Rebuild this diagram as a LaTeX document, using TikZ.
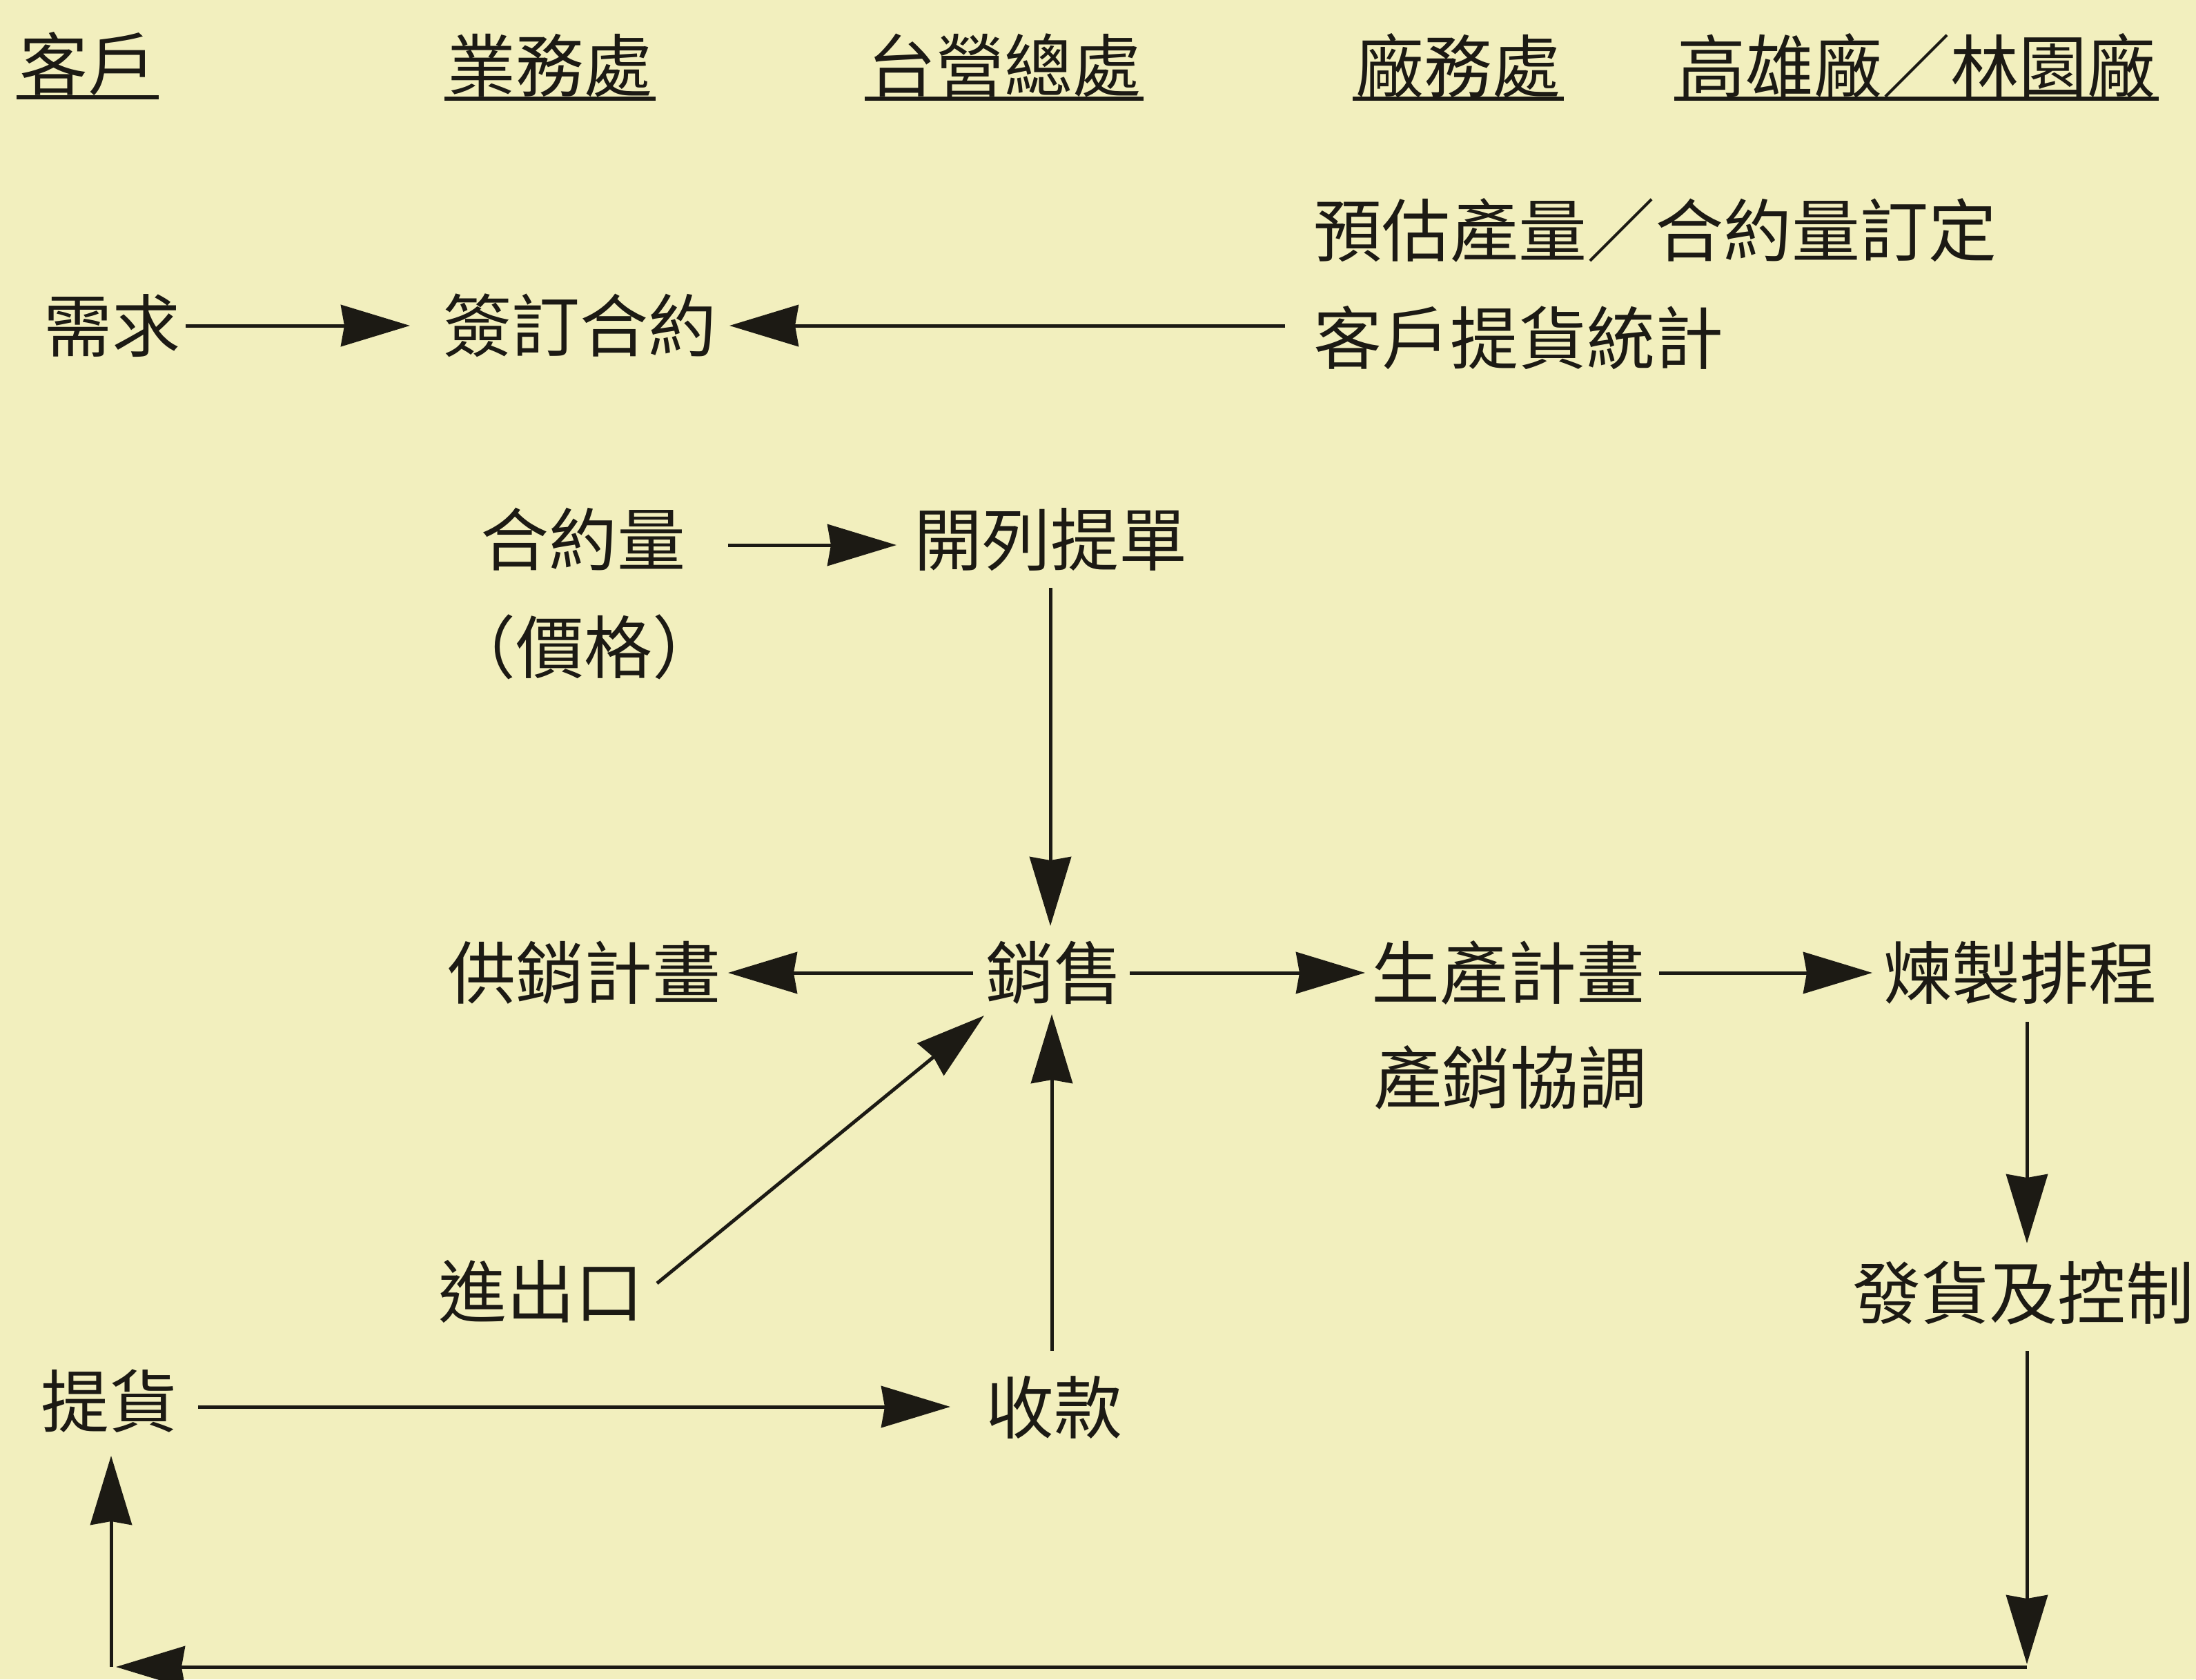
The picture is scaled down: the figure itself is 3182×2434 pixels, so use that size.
\documentclass[tikz,border=0pt]{standalone}
\usepackage{fontspec}
\newfontfamily\cjk{Noto Sans CJK TC}
\usetikzlibrary{arrows.meta,calc}
\definecolor{paper}{RGB}{242,239,190}
\definecolor{ink}{RGB}{28,26,20}
\begin{document}
\begin{tikzpicture}[x=1pt,y=-1pt,
  txt/.style={inner sep=0pt, font=\cjk\fontsize{99pt}{110pt}\selectfont, text=ink},
  arr/.style={draw=ink, line width=5pt, -{Stealth[length=100pt,width=60pt,inset=5pt]}},
  uline/.style={draw=ink, line width=6pt}]
\fill[paper] (0,0) rectangle (3182,2434);
\useasboundingbox (0,0) rectangle (3182,2434);

% headers
\node[txt] (h1) at (127,93) {客戶};
\node[txt] (h2) at (797,95) {業務處};
\node[txt] (h3) at (1455,95) {台營總處};
\node[txt] (h4) at (2113,95) {廠務處};
\node[txt] (h5) at (2777,95) {高雄廠／林園廠};
\foreach \h in {h1,h2,h3,h4,h5}{
  \draw[uline] ($(\h.west)+(-4,48)$) -- ($(\h.east)+(4,48)$);
}

% nodes
\node[txt] (need) at (162,472) {需求};
\node[txt] (sign) at (840,472) {簽訂合約};
\node[txt,anchor=west] (est) at (1903,334) {預估產量／合約量訂定};
\node[txt,anchor=west] (stat) at (1903,490) {客戶提貨統計};
\node[txt] (qty) at (845,782) {合約量};
\node[txt] (price) at (846,938) {（價格）};
\node[txt] (bill) at (1522,782) {開列提單};
\node[txt] (sales) at (1527,1410) {銷售};
\node[txt] (supply) at (846,1410) {供銷計畫};
\node[txt] (prod) at (2185,1410) {生產計畫};
\node[txt] (coord) at (2188,1562) {產銷協調};
\node[txt] (refine) at (2927,1410) {煉製排程};
\node[txt] (ship) at (2932,1874) {發貨及控制};
\node[txt] (io) at (784,1872) {進出口};
\node[txt] (pickup) at (158,2031) {提貨};
\node[txt] (collect) at (1527,2040) {收款};
\coordinate (br) at (2937,2416);
\coordinate (bl) at (161,2416);

% connectors
\draw[arr, shorten <=107pt, shorten >=246pt] (need.center) -- (sign.center);
\draw[arr, shorten <=338pt, shorten >=217pt] (stat.center |- sign.center) -- (sign.center);
\draw[arr, shorten <=210pt, shorten >=223pt] ([yshift=-8pt]qty.center) -- ([yshift=-8pt]bill.center);
\draw[arr, shorten <=70pt, shorten >=68pt] (bill.center) -- (bill.center |- sales.center);
\draw[arr, shorten <=117pt, shorten >=209pt] (sales.center) -- (supply.center);
\draw[arr, shorten <=110pt, shorten >=207pt] (sales.center) -- (prod.center);
\draw[arr, shorten <=219pt, shorten >=214pt] (prod.center) -- (refine.center);
\draw[arr, shorten <=71pt, shorten >=72pt] ([xshift=5pt]ship.center |- refine.center) -- ([xshift=5pt]ship.center);
\draw[arr, shorten <=84pt, shorten >=4pt] ([xshift=5pt]ship.center) -- (br);
\draw[arr, shorten >=7pt] (br) -- (bl);
\draw[arr, shorten >=79pt] (bl) -- (bl |- pickup.center);
\draw[arr, shorten <=129pt, shorten >=150pt] ([yshift=-8pt]pickup.center) -- ([yshift=-8pt]pickup.center -| collect.center);
\draw[arr, shorten <=82pt, shorten >=60pt] ([xshift=-3pt]collect.center) -- ([xshift=-3pt]sales.center);
\draw[arr] ($(io.center)+(168,-12)$) -- ($(sales.center)+(-101,62)$);
\end{tikzpicture}
\end{document}
